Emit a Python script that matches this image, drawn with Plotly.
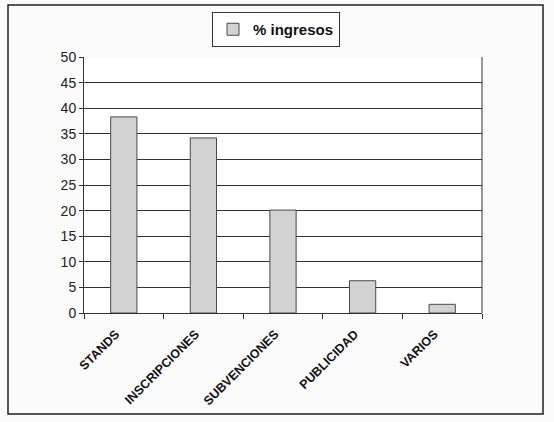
import plotly.graph_objects as go

categories = ["STANDS", "INSCRIPCIONES", "SUBVENCIONES", "PUBLICIDAD", "VARIOS"]
values = [38.3, 34.2, 20.1, 6.3, 1.7]
series_name = "<b>% ingresos</b>"
y_ticks = [0, 5, 10, 15, 20, 25, 30, 35, 40, 45, 50]

L, R, T, B = 84, 72, 57, 109
W, H = 554, 422
pw, ph = W - L - R, H - T - B

fig = go.Figure()
fig.add_trace(go.Bar(
    x=categories, y=values, name=series_name, width=0.33,
    marker=dict(color="#d2d2d2", line=dict(color="#4a4a4a", width=1)),
    showlegend=True,
))

fig.update_layout(
    width=W, height=H,
    margin=dict(l=L, r=R, t=T, b=B),
    paper_bgcolor="#fbfbfb", plot_bgcolor="#ffffff",
    font=dict(family="Liberation Sans, Arial, sans-serif", color="#222"),
    legend=dict(
        x=(212 - L) / pw, y=(313 - 12) / ph, xanchor="left", yanchor="top",
        bgcolor="#ffffff", bordercolor="#333", borderwidth=1,
        font=dict(size=15, family="Liberation Sans, Arial, sans-serif", color="#111"),
        itemwidth=30, tracegroupgap=0,
    ),
    xaxis=dict(
        showline=True, linecolor="#333", linewidth=1,
        ticks="outside", tickson="boundaries", ticklen=5, tickcolor="#333",
        tickangle=-45, showgrid=False,
        ticklabelstandoff=8, ticklabelshift=-8,
        tickfont=dict(size=12.5, family="Liberation Sans, Arial, sans-serif", color="#111", weight="bold"),
    ),
    yaxis=dict(
        range=[0, 50], tickvals=y_ticks, showline=True, linecolor="#333", linewidth=1,
        ticks="outside", ticklen=4, tickcolor="#333",
        showgrid=True, gridcolor="#333", gridwidth=1, zeroline=False,
        tickfont=dict(size=14, color="#222"),
    ),
    shapes=[dict(
        type="rect", xref="paper", yref="paper",
        x0=(8 - L) / pw, x1=(543 - L) / pw,
        y0=(313 - 414) / ph, y1=(313 - 5) / ph,
        line=dict(color="#222", width=1.5), fillcolor="rgba(0,0,0,0)", layer="below",
    ), dict(
        type="line", xref="paper", yref="paper", x0=1, x1=1, y0=0, y1=1,
        line=dict(color="#333", width=1),
    )],
)

fig.write_html("out.html", config={"displayModeBar": False},
               post_script="document.body.style.margin='0';document.body.style.overflow='hidden';")
